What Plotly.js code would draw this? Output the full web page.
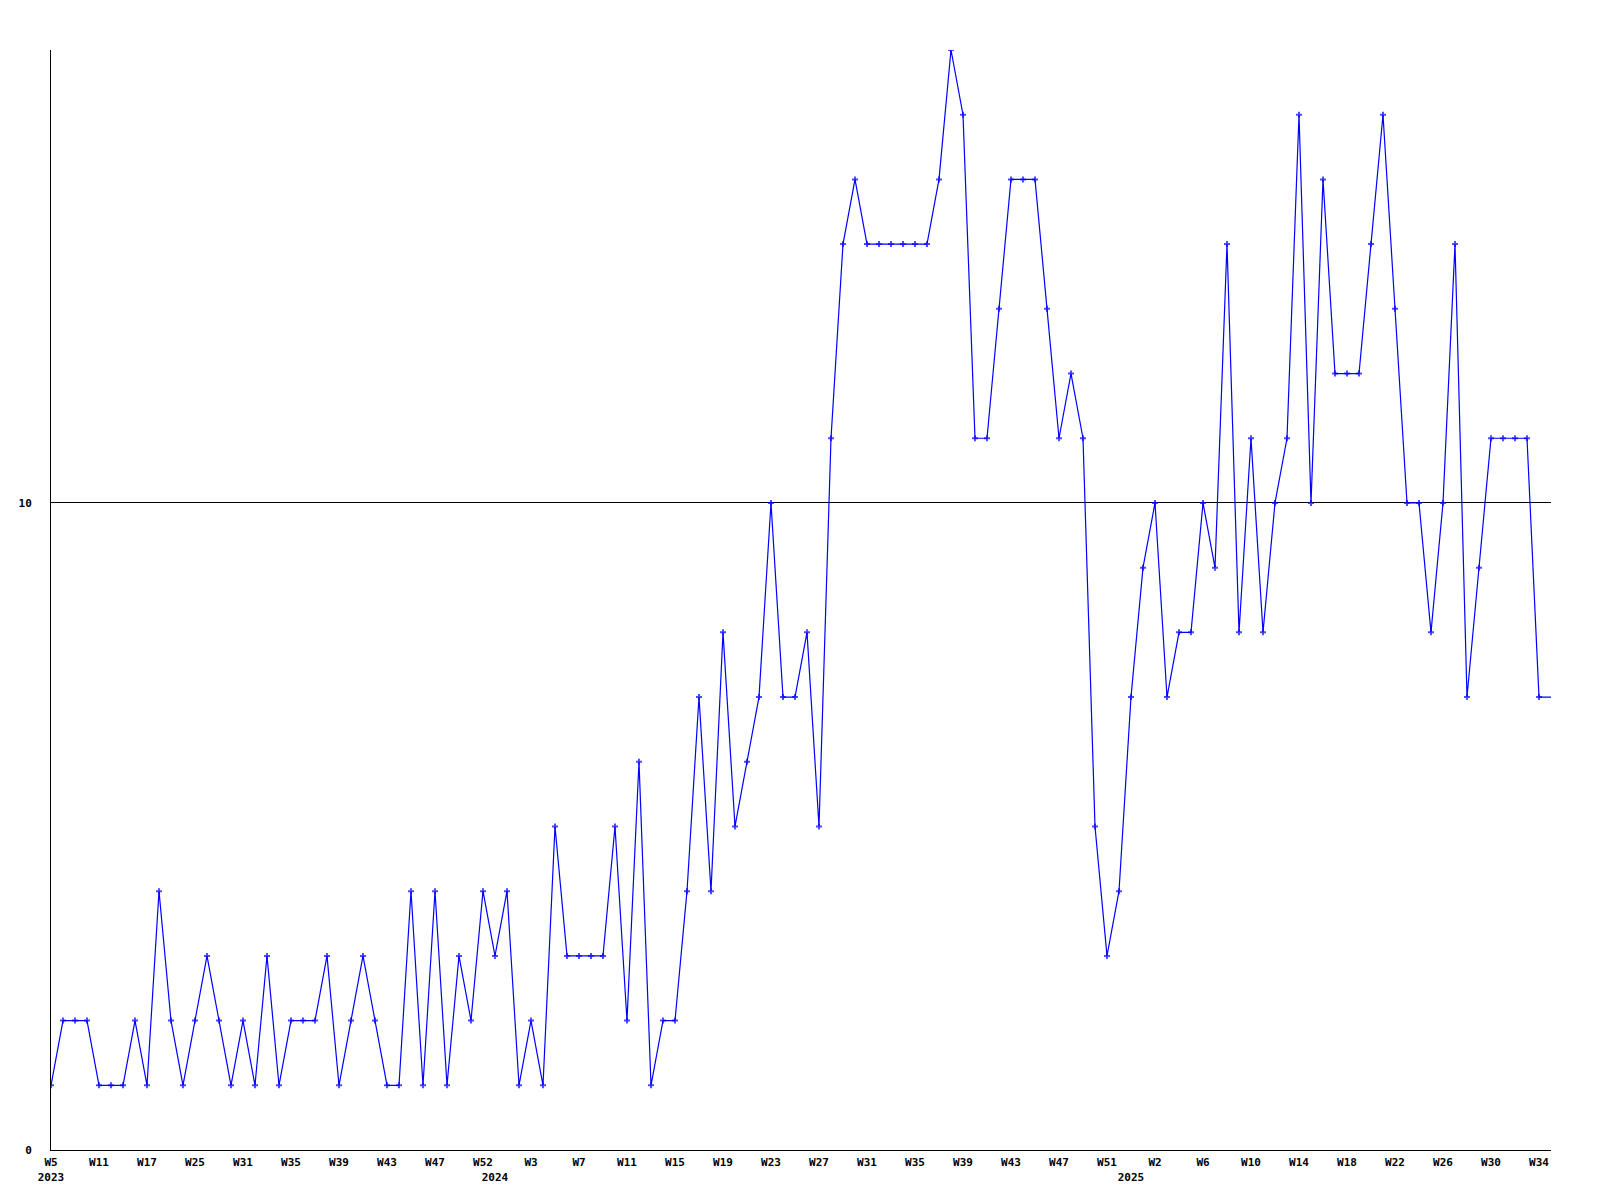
<!DOCTYPE html>
<html>
<head>
<meta charset="utf-8">
<script src="https://cdn.plot.ly/plotly-3.0.1.min.js"></script>
<style>
  html, body { margin: 0; padding: 0; background: #ffffff; }
  #chart { width: 1600px; height: 1200px; }
</style>
</head>
<body>
<div id="chart"></div>
<script>
// Weekly values, one per point (left to right)
const values = [
  1, 2, 2, 2, 1, 1, 1, 2, 1, 4,
  2, 1, 2, 3, 2, 1, 2, 1, 3, 1,
  2, 2, 2, 3, 1, 2, 3, 2, 1, 1,
  4, 1, 4, 1, 3, 2, 4, 3, 4, 1,
  2, 1, 5, 3, 3, 3, 3, 5, 2, 6,
  1, 2, 2, 4, 7, 4, 8, 5, 6, 7,
  10, 7, 7, 8, 5, 11, 14, 15, 14, 14,
  14, 14, 14, 14, 15, 17, 16, 11, 11, 13,
  15, 15, 15, 13, 11, 12, 11, 5, 3, 4,
  7, 9, 10, 7, 8, 8, 10, 9, 14, 8,
  11, 8, 10, 11, 16, 10, 15, 12, 12, 12,
  14, 16, 13, 10, 10, 8, 10, 14, 7, 9,
  11, 11, 11, 11, 7, 7
];

// Week labels shown on the x axis (every 4th point)
const weekLabels = [
  'W5', 'W11', 'W17', 'W25', 'W31', 'W35', 'W39', 'W43', 'W47', 'W52',
  'W3', 'W7', 'W11', 'W15', 'W19', 'W23', 'W27', 'W31', 'W35', 'W39',
  'W43', 'W47', 'W51', 'W2', 'W6', 'W10', 'W14', 'W18', 'W22', 'W26',
  'W30', 'W34'
];
const weekLabelStep = 4;

// Year labels and the point index where each year begins
const yearLabels = ['2023', '2024', '2025'];
const yearStartIndex = [0, 37, 90];

// Y axis ticks
const yTickValues = [0, 10];

// ---- build ----
const xs = values.map((v, i) => i);

const tickMap = new Map();
weekLabels.forEach((w, k) => tickMap.set(k * weekLabelStep, w));
yearLabels.forEach((y, k) => {
  const idx = yearStartIndex[k];
  const top = tickMap.has(idx) ? tickMap.get(idx) : '';
  tickMap.set(idx, top + '<br>' + y);
});
const tickvals = Array.from(tickMap.keys()).sort((a, b) => a - b);
const ticktext = tickvals.map(v => tickMap.get(v));

const markerSizes = values.map((v, i) => (i === values.length - 1 ? 0 : 5));

const font = { family: 'DejaVu Sans Mono, monospace', size: 11, color: '#000000', weight: 'bold' };

const trace = {
  x: xs,
  y: values,
  type: 'scatter',
  mode: 'lines+markers',
  line: { color: '#0000ff', width: 1.2 },
  marker: { color: '#0000ff', symbol: 'cross', size: markerSizes, line: { width: 0 } },
  cliponaxis: true,
  hoverinfo: 'skip'
};

const layout = {
  width: 1600,
  height: 1200,
  paper_bgcolor: '#ffffff',
  plot_bgcolor: '#ffffff',
  showlegend: false,
  margin: { l: 51, r: 49, t: 50, b: 50, pad: 0 },
  font: font,
  xaxis: {
    range: [0, values.length - 1],
    tickmode: 'array',
    tickvals: tickvals,
    ticktext: ticktext,
    tickangle: 0,
    ticks: '',
    showgrid: false,
    zeroline: false,
    showline: true,
    linecolor: '#000000',
    linewidth: 1,
    tickfont: font,
    ticklabelstandoff: 2,
    automargin: false,
    fixedrange: true
  },
  yaxis: {
    range: [0, 17],
    tickmode: 'array',
    tickvals: yTickValues,
    ticktext: yTickValues.map(String),
    ticks: '',
    showgrid: true,
    gridcolor: '#000000',
    gridwidth: 1,
    zeroline: false,
    showline: true,
    linecolor: '#000000',
    linewidth: 1,
    tickfont: font,
    ticklabelstandoff: 16,
    automargin: false,
    fixedrange: true
  }
};

Plotly.newPlot('chart', [trace], layout, { staticPlot: true, displayModeBar: false });
</script>
</body>
</html>
